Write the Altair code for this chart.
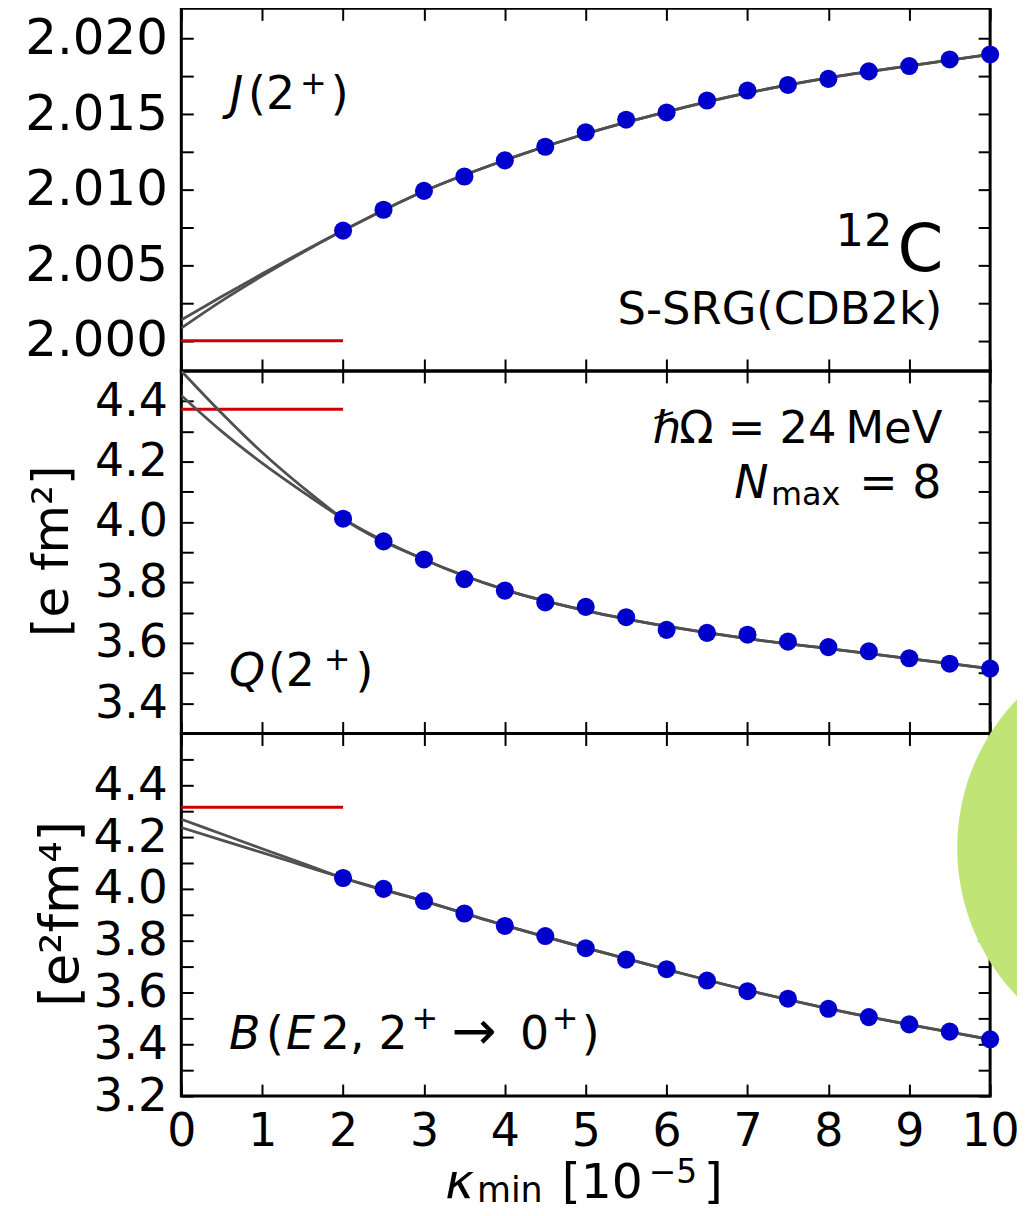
import altair as alt
import numpy as np
import pandas as pd

# ---------------- data ----------------
kappa_pts = [2.0, 2.5, 3.0, 3.5, 4.0, 4.5, 5.0, 5.5, 6.0, 6.5, 7.0, 7.5, 8.0, 8.5, 9.0, 9.5, 10.0]
J_pts = [2.00729, 2.00867, 2.00992, 2.01087, 2.01194, 2.01284, 2.01380, 2.01463, 2.01511,
         2.01590, 2.01656, 2.01693, 2.01733, 2.01783, 2.01818, 2.01862, 2.01895]
Q_pts = [4.011, 3.936, 3.876, 3.811, 3.773, 3.734, 3.719, 3.685, 3.643,
         3.633, 3.627, 3.604, 3.586, 3.572, 3.549, 3.531, 3.515]
BE2_pts = [4.042, 4.000, 3.953, 3.905, 3.857, 3.818, 3.771, 3.727, 3.690,
           3.646, 3.605, 3.576, 3.537, 3.505, 3.477, 3.449, 3.419]

# two extrapolation fits (gray curves)
kappa_fit = [0.0, 0.5, 1.0, 1.5, 2.0, 3.0, 4.0, 5.0, 6.0, 7.0, 8.0, 9.0, 10.0]
J_fit1 = [2.00138, 2.00293, 2.00443, 2.00589, 2.00729, 2.00990, 2.01195, 2.01370,
          2.01515, 2.01640, 2.01740, 2.01820, 2.01895]
J_fit2 = [2.00084, 2.00264, 2.00429, 2.00584, 2.00729, 2.00990, 2.01195, 2.01370,
          2.01515, 2.01640, 2.01740, 2.01820, 2.01895]
Q_fit1 = [4.500, 4.360, 4.230, 4.115, 4.011, 3.876, 3.776, 3.707, 3.655, 3.614, 3.581,
          3.548, 3.515]
Q_fit2 = [4.419, 4.300, 4.195, 4.100, 4.011, 3.876, 3.776, 3.707, 3.655, 3.614, 3.581,
          3.548, 3.515]
BE2_fit1 = [4.269, 4.212, 4.155, 4.099, 4.042, 3.953, 3.859, 3.772, 3.689, 3.609, 3.538,
            3.476, 3.419]
BE2_fit2 = [4.237, 4.188, 4.140, 4.091, 4.042, 3.953, 3.859, 3.772, 3.689, 3.609, 3.538,
            3.476, 3.419]

kappa_exp = [0.0, 2.0]
J_exp = 2.000
Q_exp = 4.373
BE2_exp = 4.315

x_ticks = [0, 1, 2, 3, 4, 5, 6, 7, 8, 9, 10]
J_ticks = [2.0, 2.0025, 2.005, 2.0075, 2.01, 2.0125, 2.015, 2.0175, 2.02]
Q_ticks = [3.4, 3.5, 3.6, 3.7, 3.8, 3.9, 4.0, 4.1, 4.2, 4.3, 4.4]
BE2_ticks = [3.2, 3.3, 3.4, 3.5, 3.6, 3.7, 3.8, 3.9, 4.0, 4.1, 4.2, 4.3, 4.4, 4.5]

# ---------------- styling ----------------
FONT = "DejaVu Sans"
W, H = 812, 364
XS = alt.Scale(domain=[0, 10], nice=False, zero=False)


def make_axis(orient, values, labels=False, size=46, fmt=None, expr=None):
    kw = dict(orient=orient, values=values, labels=labels, domain=False, grid=False,
              ticks=True, tickSize=12, tickWidth=2, tickColor="black", offset=-12,
              minExtent=0)
    if labels:
        kw.update(labelFont=FONT, labelFontSize=size, labelColor="black", labelPadding=14,
                  labelOverlap=False, labelFlush=False)
        if fmt:
            kw["format"] = fmt
        if expr:
            kw["labelExpr"] = expr
    return alt.Axis(**kw)


def text_layer(pieces, ys, italic=False, align="left", angle=0):
    df = pd.DataFrame(pieces, columns=["x", "y", "t", "s"])
    return alt.Chart(df).mark_text(
        align=align, baseline="alphabetic", font=FONT, angle=angle,
        fontStyle="italic" if italic else "normal", color="black"
    ).encode(
        x=alt.X("x:Q", scale=XS, axis=None),
        y=alt.Y("y:Q", scale=ys, axis=None),
        text="t:N",
        size=alt.Size("s:Q", scale=None, legend=None),
    )


def panel(ys, fit1, fit2, pts, exp_y, yticks, lab_size, yexpr, bottom_labels, texts,
          ytitle=None, extra=None):
    exp_df = pd.DataFrame({"x0": [kappa_exp[0]], "x1": [kappa_exp[1]], "y": [exp_y]})
    rule = alt.Chart(exp_df).mark_rule(color="#cc0000", strokeWidth=3).encode(
        x=alt.X("x0:Q", scale=XS, title=None,
                axis=make_axis("bottom", x_ticks, labels=bottom_labels, fmt="d")),
        x2="x1:Q",
        y=alt.Y("y:Q", scale=ys, title=None,
                axis=make_axis("left", yticks, labels=True, size=lab_size, expr=yexpr)),
    )
    rows = []
    for name, fit in (("a", fit1), ("b", fit2)):
        for x, y in zip(kappa_fit, fit):
            rows.append({"x": x, "y": y, "s": name})
    lines = alt.Chart(pd.DataFrame(rows)).mark_line(
        color="#505050", strokeWidth=2.8, interpolate="monotone", clip=True
    ).encode(
        x=alt.X("x:Q", scale=XS, title=None, axis=make_axis("top", x_ticks)),
        y=alt.Y("y:Q", scale=ys, title=None, axis=make_axis("right", yticks)),
        detail="s:N",
    )
    dots = alt.Chart(pd.DataFrame({"x": kappa_pts, "y": pts})).mark_circle(
        size=330, color="#0000cc", opacity=1
    ).encode(
        x=alt.X("x:Q", scale=XS, axis=None),
        y=alt.Y("y:Q", scale=ys, axis=None),
    )
    layers = [rule, lines, dots]
    for (italic, align), pieces in texts.items():
        layers.append(text_layer(pieces, ys, italic=italic, align=align))
    if ytitle is not None:
        layers.append(text_layer([ytitle], ys, align="center", angle=270))
    if extra is not None:
        layers.append(extra)
    return alt.layer(*layers).resolve_axis(x="independent", y="independent").properties(
        width=W, height=H)


# ---------- panel 1 : J(2+) ----------
ys1 = alt.Scale(domain=[1.998, 2.022], nice=False, zero=False)
texts1 = {
    (True, "left"): [(0.60, 2.015355, "J", 46)],
    (False, "left"): [(0.825, 2.015355, "(2", 46), (1.466, 2.016347, "+", 32),
                      (1.847, 2.015355, ")", 46)],
    (False, "right"): [(8.793, 2.006298, "12", 45), (9.421, 2.004645, "C", 66),
                       (9.409, 2.001140, "S-SRG(CDB2k)", 45)],
}
p1 = panel(ys1, J_fit1, J_fit2, J_pts, J_exp, J_ticks, 50,
           "round(datum.value*1000) % 5 == 0 ? format(datum.value, '.3f') : ''",
           False, texts1)

# ---------- panel 2 : Q(2+) ----------
ys2 = alt.Scale(domain=[3.3, 4.5], nice=False, zero=False)
texts2 = {
    (False, "right"): [(9.409, 4.2603, "Ω = 24\u2009MeV", 45), (9.397, 4.0785, "= 8", 46)],
    (True, "left"): [(5.825, 4.2603, "ℏ", 45), (6.835, 4.0785, "N", 46),
                     (0.591, 3.457, "Q", 46)],
    (False, "left"): [(7.291, 4.0554, "max", 32), (1.071, 3.457, "(2", 46),
                      (1.761, 3.5104, "+", 32), (2.155, 3.457, ")", 46)],
}
p2 = panel(ys2, Q_fit1, Q_fit2, Q_pts, Q_exp, Q_ticks, 46,
           "round(datum.value*10) % 2 == 0 ? format(datum.value, '.1f') : ''",
           False, texts2, ytitle=(-1.404, 3.9033, "[e fm²]", 50))

# ---------- panel 3 : B(E2) ----------
ys3 = alt.Scale(domain=[3.2, 4.6], nice=False, zero=False)
texts3 = {
    (True, "left"): [(0.591, 3.3806, "B", 46), (1.293, 3.3806, "E", 46),
                     (3.264, 2.8077, "κ", 49)],
    (False, "left"): [(1.047, 3.3806, "(", 46), (1.724, 3.3806, "2,", 46),
                      (2.438, 3.3806, "2", 46), (2.845, 3.4604, "+", 32),
                      (3.340, 3.3806, "→", 54), (4.187, 3.3806, "0", 46),
                      (4.581, 3.4604, "+", 32), (4.951, 3.3806, ")", 46),
                      (3.655, 2.7923, "min", 35), (4.704, 2.8077, "[10", 49),
                      (5.780, 2.8654, "−5", 33), (6.460, 2.8077, "]", 49)],
}
# decorative green disc at the right edge of the page (visible part only)
xc = -0.721
a0 = np.arccos(xc)
th = np.linspace(a0, 2 * np.pi - a0, 64)
disc_path = "M" + " L".join(f"{np.cos(t):.4f},{np.sin(t):.4f}" for t in th) + " Z"
disc = alt.Chart(pd.DataFrame({"x": [12.241], "y": [4.1584]})).mark_point(
    shape=disc_path, filled=True, size=184900, color="#c0e475", opacity=1, strokeWidth=0
).encode(
    x=alt.X("x:Q", scale=XS, axis=None),
    y=alt.Y("y:Q", scale=ys3, axis=None),
)
p3 = panel(ys3, BE2_fit1, BE2_fit2, BE2_pts, BE2_exp, BE2_ticks, 47,
           "round(datum.value*10) % 2 == 0 ? format(datum.value, '.1f') : ''",
           True, texts3, ytitle=(-1.281, 3.9039, "[e²fm⁴]", 53), extra=disc)

chart = alt.vconcat(p1, p2, p3, spacing=0, bounds="flush").properties(
    padding={"left": 15, "top": -5, "right": 0, "bottom": -5}
).configure_view(stroke="black", strokeWidth=3)

chart.save("out.html", embed_options={"renderer": "svg", "actions": False})
